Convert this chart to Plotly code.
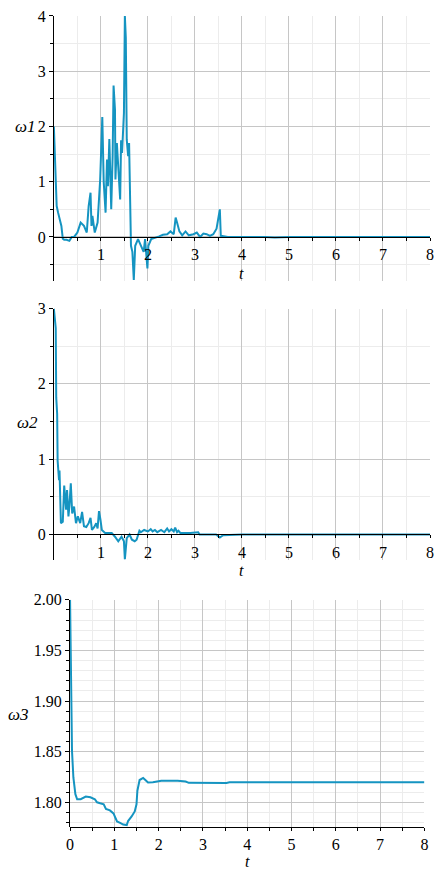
import plotly.graph_objects as go

# ---------------- data ----------------
t1 = [0, 0.02, 0.03, 0.05, 0.06, 0.09, 0.12, 0.16, 0.19, 0.22, 0.27, 0.33, 0.38, 0.43,
      0.5, 0.57, 0.64, 0.7, 0.74, 0.78, 0.8, 0.82, 0.87, 0.93, 0.985, 1.03, 1.06, 1.1,
      1.13, 1.15, 1.18, 1.2, 1.22, 1.25, 1.27, 1.3, 1.31, 1.34, 1.37, 1.41, 1.43, 1.45,
      1.49, 1.5, 1.51, 1.53, 1.55, 1.58, 1.6, 1.64, 1.67, 1.7, 1.73, 1.79, 1.86, 1.91,
      1.94, 1.99, 2.01, 2.07, 2.24, 2.32, 2.41, 2.48, 2.55, 2.59, 2.62, 2.67, 2.73, 2.8, 2.87,
      2.97, 3.04, 3.11, 3.18, 3.25, 3.32, 3.39, 3.46, 3.53, 3.55, 3.7, 4.5, 4.7, 5.0, 5.5,
      6.0, 7.0, 8.0]
w1 = [2.0, 1.55, 1.58, 0.92, 0.56, 0.44, 0.33, 0.2, -0.03, -0.05, -0.05, -0.07, 0.0, 0.0,
      0.08, 0.26, 0.2, 0.08, 0.56, 0.8, 0.2, 0.38, 0.08, 0.26, 1.04, 2.17, 1.0, 0.44,
      1.4, 0.92, 1.77, 0.8, 0.5, 1.46, 2.74, 2.3, 1.04, 1.7, 1.16, 0.68, 1.75, 1.52,
      2.24, 3.43, 4.0, 3.61, 1.76, 1.46, 1.7, -0.16, -0.27, -0.78, -0.16, -0.04, -0.16, -0.27,
      -0.04, -0.57, -0.16, -0.04, 0.01, 0.04, 0.05, 0.1, 0.05, 0.35, 0.26, 0.1, 0.03, 0.1, 0.03,
      0.05, 0.08, 0.0, 0.06, 0.05, 0.02, 0.05, 0.15, 0.5, 0.02, 0.0, 0.0, -0.01, 0.0, 0.0,
      0.0, 0.0, 0.0]

t2 = [0, 0.03, 0.04, 0.05, 0.07, 0.08, 0.11, 0.12, 0.15, 0.19, 0.22, 0.26, 0.28, 0.31,
      0.33, 0.36, 0.39, 0.43, 0.47, 0.51, 0.56, 0.6, 0.64, 0.69, 0.74, 0.78, 0.81, 0.86,
      0.9, 0.93, 0.96, 0.99, 1.02, 1.09, 1.23, 1.3, 1.37, 1.44, 1.49, 1.51, 1.55, 1.61,
      1.66, 1.72, 1.76, 1.82, 1.85, 1.92, 2.0, 2.06, 2.1, 2.15, 2.2, 2.28, 2.35, 2.41,
      2.45, 2.5, 2.55, 2.58, 2.62, 2.65, 2.69, 2.9, 3.07, 3.1, 3.45, 3.53, 3.6, 4.0, 5.0,
      5.82, 5.9, 7.0, 8.0]
w2 = [3.0, 2.78, 2.74, 1.82, 1.6, 0.98, 0.72, 0.85, 0.15, 0.17, 0.65, 0.33, 0.59, 0.24,
      0.37, 0.68, 0.28, 0.37, 0.15, 0.24, 0.15, 0.3, 0.11, 0.1, 0.15, 0.22, 0.06, 0.1,
      0.15, 0.08, 0.31, 0.2, 0.06, 0.02, 0.02, -0.03, -0.09, -0.03, -0.09, -0.33, -0.05, 0.0,
      -0.07, -0.09, -0.07, 0.05, 0.03, 0.06, 0.04, 0.07, 0.04, 0.06, 0.03, 0.06, 0.03, 0.08,
      0.04, 0.07, 0.04, 0.09, 0.03, 0.05, 0.02, 0.02, 0.03, 0.0, 0.0, -0.04, -0.01, 0.0, 0.0,
      0.01, 0.0, 0.0, 0.0]

t3 = [0, 0.02, 0.044, 0.075, 0.12, 0.16, 0.24, 0.355, 0.46, 0.56, 0.61, 0.68, 0.76, 0.81,
      0.9, 0.98, 1.02, 1.06, 1.13, 1.2, 1.28, 1.31, 1.39, 1.46, 1.5, 1.52, 1.57, 1.65,
      1.7, 1.76, 1.87, 2.06, 2.43, 2.61, 2.68, 2.94, 3.53, 3.6, 5.0, 8.0]
w3 = [2.0, 1.909, 1.8506, 1.8245, 1.808, 1.803, 1.803, 1.8056, 1.805, 1.803, 1.800, 1.799,
      1.798, 1.7935, 1.792, 1.789, 1.785, 1.781, 1.7797, 1.778, 1.7775, 1.7815, 1.786, 1.791,
      1.798, 1.8114, 1.822, 1.824, 1.822, 1.8196, 1.8197, 1.8212, 1.8212, 1.8205, 1.8192,
      1.819, 1.819, 1.8197, 1.8198, 1.8198]

y_labels = ["ω1", "ω2", "ω3"]
x_label = "t"

# ---------------- layout helpers ----------------
W, H = 434, 869
LINE = "#1594c1"
MAJ = "#c6c6c6"
MIN = "#ececec"
FONT = "Liberation Serif, Times New Roman, Tinos, DejaVu Serif, serif"

def px(p):
    return p / W

def py(p):
    return 1 - p / H

panels = [
    dict(box=(50.8, 434.0, 8.0, 275.7), xr=[0, 8], yr=[-0.8, 4.0], yminor=0.5,
         xt=[1, 2, 3, 4, 5, 6, 7, 8], yt=[0, 1, 2, 3, 4], fmt=None),
    dict(box=(50.8, 434.0, 303.3, 556.7), xr=[0, 8], yr=[-1/3, 3.0], yminor=0.5,
         xt=[1, 2, 3, 4, 5, 6, 7, 8], yt=[0, 1, 2, 3], fmt=None),
    dict(box=(67.3, 428.3, 597.3, 826.7), xr=[0, 8], yr=[1.7755, 2.0], yminor=0.01,
         xt=[0, 1, 2, 3, 4, 5, 6, 7, 8], yt=[1.80, 1.85, 1.90, 1.95, 2.00], fmt=".2f"),
]
series = [(t1, w1), (t2, w2), (t3, w3)]

fig = go.Figure()
layout = dict(width=W, height=H, margin=dict(l=0, r=0, t=0, b=0),
              plot_bgcolor="white", paper_bgcolor="white", showlegend=False,
              annotations=[])

label_pos = [(22, 120), (24, 418), (15, 713)]
t_pos = [(242, 268), (242, 568), (248, 861)]

for i, p in enumerate(panels):
    n = "" if i == 0 else str(i + 1)
    l, r, top, bot = p["box"]
    xd = [px(l), px(r)]
    yd = [py(bot), py(top)]
    y0, y1 = p["yr"]
    if y0 <= 0 <= y1:
        pos = yd[0] + (0 - y0) / (y1 - y0) * (yd[1] - yd[0])
    else:
        pos = yd[0]
    tickfont = dict(family=FONT, size=16, color="black")
    layout["xaxis" + n] = dict(
        domain=xd, range=p["xr"], anchor="free", position=pos,
        tickmode="array", tickvals=p["xt"], ticktext=[str(v) for v in p["xt"]],
        showgrid=True, gridcolor=MAJ, gridwidth=1, zeroline=False,
        showline=True, linecolor="black", linewidth=1,
        ticks="outside", ticklen=3, tickcolor="black", tickfont=tickfont,
        ticklabeloverflow="allow",
        minor=dict(tick0=0, dtick=0.5, showgrid=True, gridcolor=MIN, gridwidth=1,
                   ticks="outside", ticklen=3, tickcolor="black"),
        fixedrange=True,
    )
    ytext = [format(v, p["fmt"]) if p["fmt"] else str(v) for v in p["yt"]]
    layout["yaxis" + n] = dict(
        domain=yd, range=p["yr"], anchor="x" + n,
        tickmode="array", tickvals=p["yt"], ticktext=ytext,
        showgrid=True, gridcolor=MAJ, gridwidth=1, zeroline=False,
        showline=True, linecolor="black", linewidth=1,
        ticks="outside", ticklen=4, tickcolor="black", tickfont=tickfont,
        ticklabeloverflow="allow",
        minor=dict(tick0=0, dtick=p["yminor"], showgrid=True, gridcolor=MIN, gridwidth=1,
                   ticks="outside", ticklen=3, tickcolor="black"),
        fixedrange=True,
    )
    tx, ty = series[i]
    fig.add_trace(go.Scatter(x=tx, y=ty, mode="lines", xaxis="x" + n, yaxis="y" + n,
                             line=dict(color=LINE, width=2), hoverinfo="skip"))
    lx, ly = label_pos[i]
    layout["annotations"].append(dict(
        x=px(lx), y=py(ly), xref="paper", yref="paper", showarrow=False,
        text="<i>" + y_labels[i] + "</i>", font=dict(family=FONT, size=17, color="black"),
        xanchor="center", yanchor="middle"))
    ax_, ay_ = t_pos[i]
    layout["annotations"].append(dict(
        x=px(ax_), y=py(ay_), xref="paper", yref="paper", showarrow=False,
        text="<i>" + x_label + "</i>", font=dict(family=FONT, size=16, color="black"),
        xanchor="center", yanchor="middle"))

fig.update_layout(**layout)
fig.write_html("out.html")
